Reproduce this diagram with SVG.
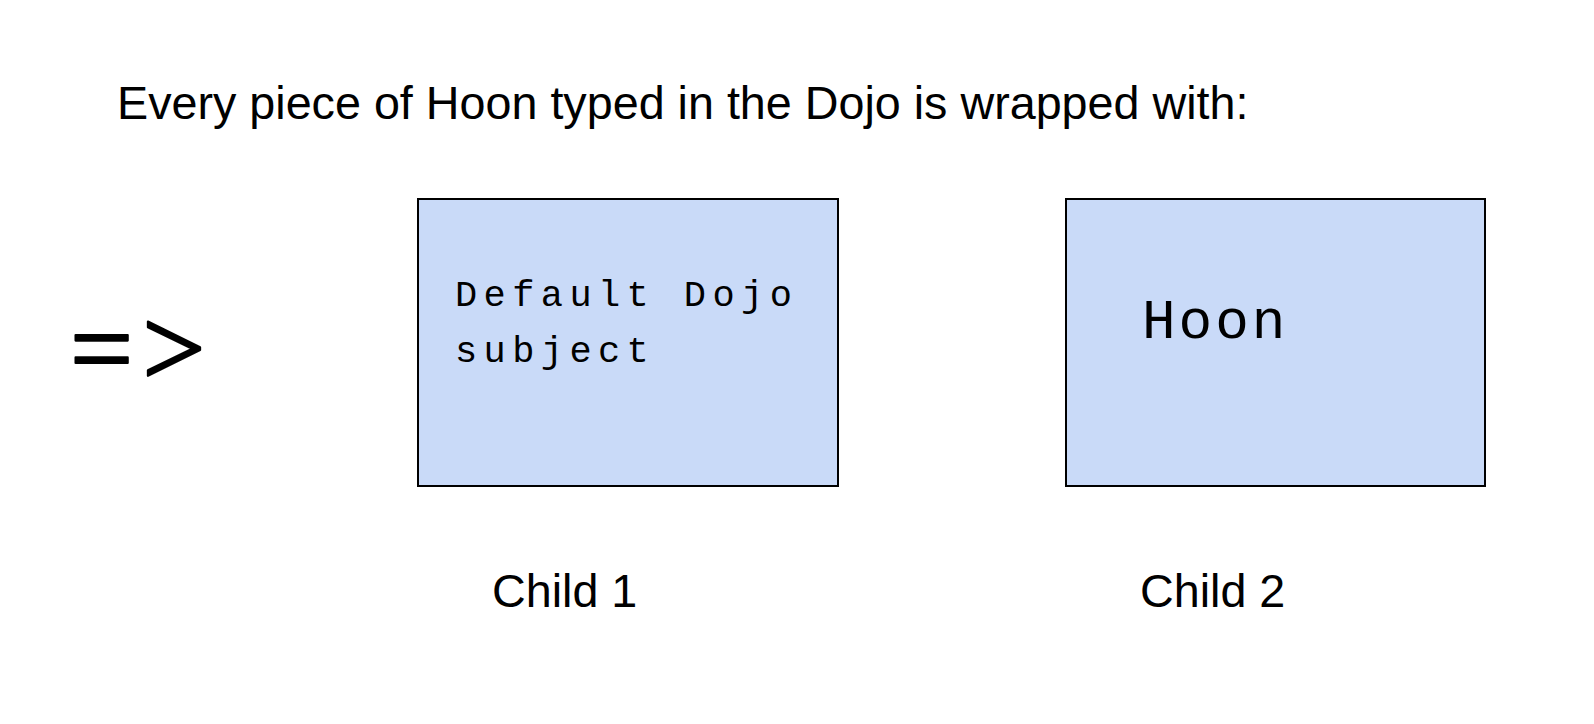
<svg xmlns="http://www.w3.org/2000/svg" width="1594" height="724" viewBox="0 0 1594 724">
<style>
.sans{font-family:"Liberation Sans",Arial,sans-serif;font-size:46.7px;fill:#000}
.mono{font-family:"Liberation Mono","Courier New",monospace;fill:#000}
.box{fill:#c9daf8;stroke:#000;stroke-width:2}
</style>
<rect width="1594" height="724" fill="#fff"/>
<g id="title"><text class="sans" x="117" y="119">Every piece of Hoon typed in the Dojo is wrapped with:</text></g>
<g id="arrow"><text x="70" y="386" font-family="'Liberation Serif','Times New Roman',serif" font-size="112" letter-spacing="9" fill="#000" stroke="#000" stroke-width="2.2" stroke-linejoin="round">=&gt;</text></g>
<g id="child1">
<rect class="box" x="418" y="199" width="420" height="287"/>
<text class="mono" x="455" y="306" font-size="37" letter-spacing="6.4">Default Dojo</text>
<text class="mono" x="455" y="362" font-size="37" letter-spacing="6.4">subject</text>
</g>
<g id="child2">
<rect class="box" x="1066" y="199" width="419" height="287"/>
<text class="mono" x="1142" y="338" font-size="56" letter-spacing="3">Hoon</text>
</g>
<g id="labels">
<text class="sans" x="492" y="607">Child 1</text>
<text class="sans" x="1140" y="607">Child 2</text>
</g>
<g id="connectors"/>
</svg>
